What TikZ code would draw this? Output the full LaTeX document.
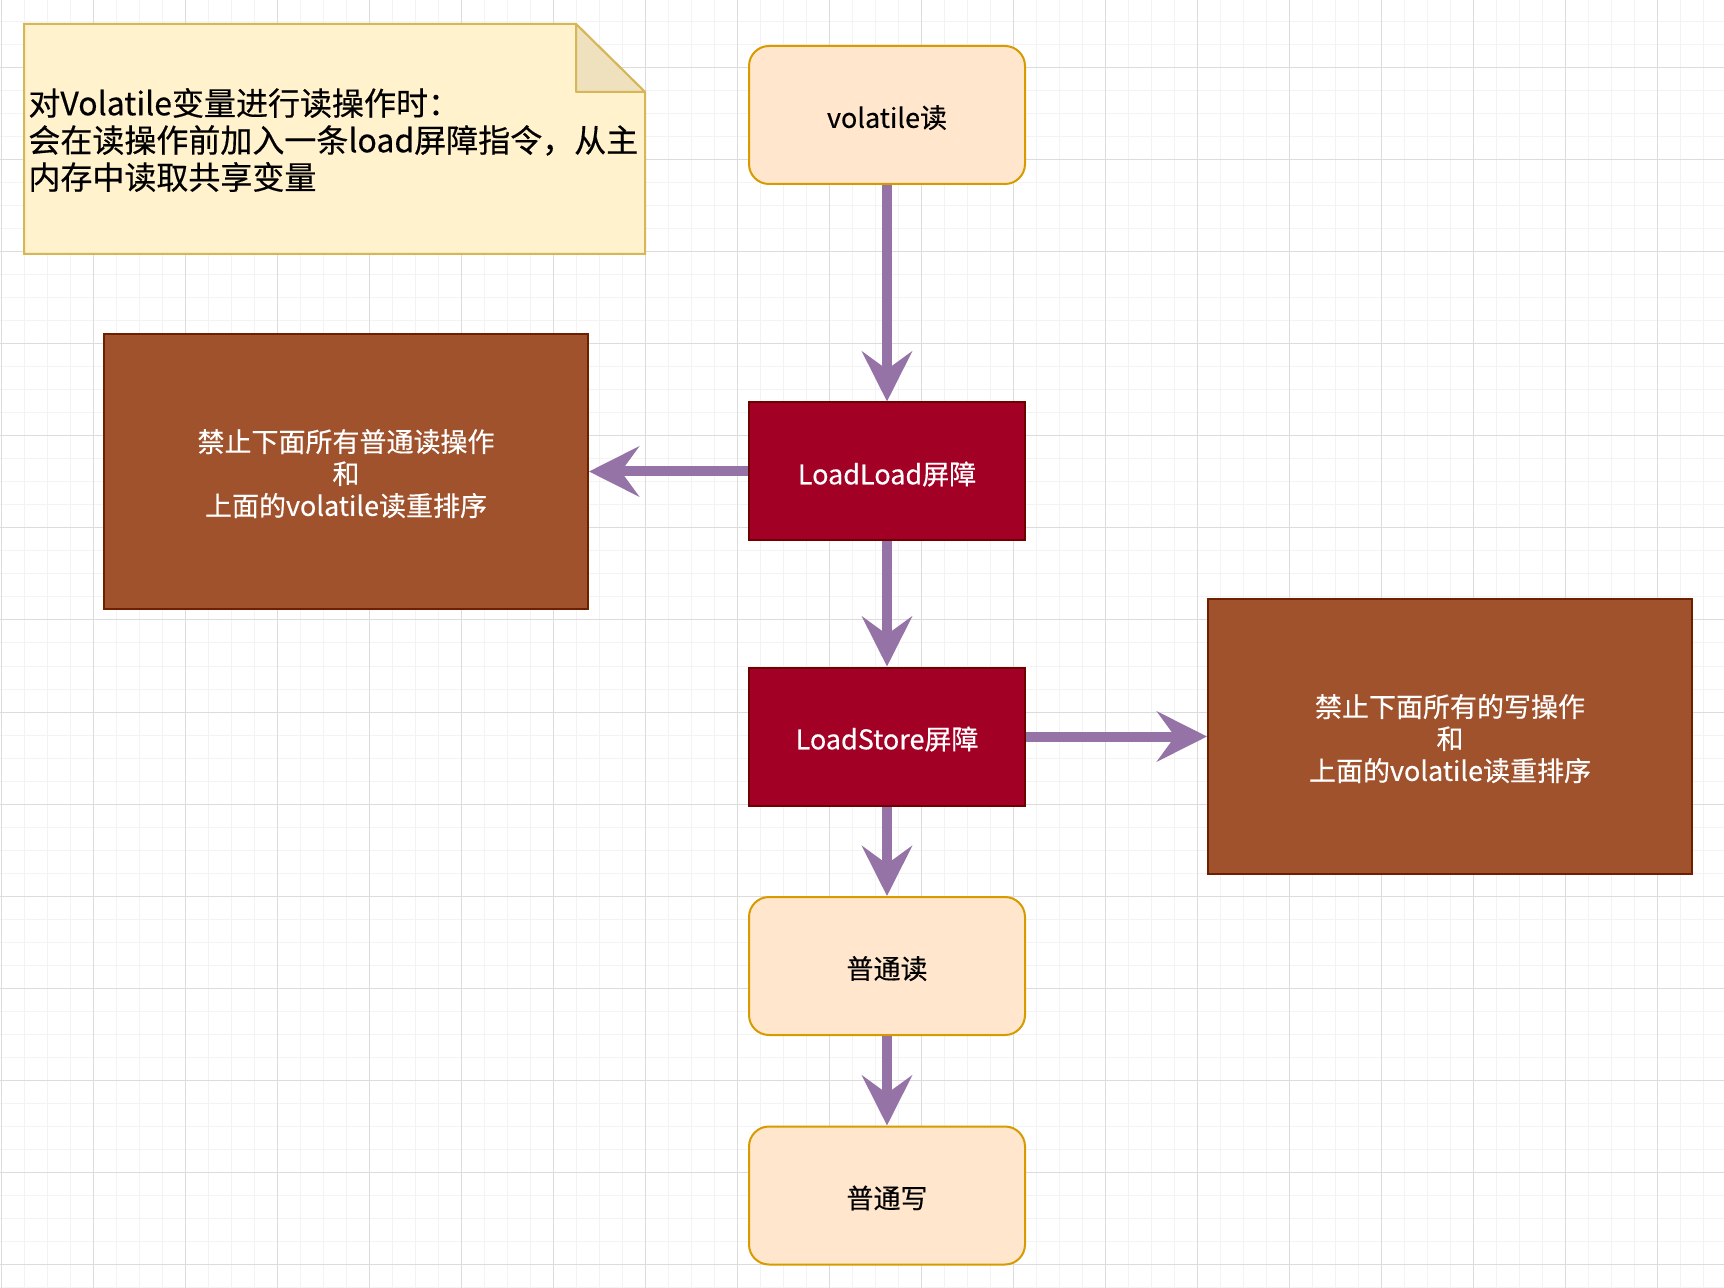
\documentclass[tikz,border=0pt]{standalone}
\usepackage{fontspec}
\usepackage{xcolor}
\usepackage{tikz}
\usetikzlibrary{arrows.meta,positioning}
\newfontfamily\cjk[FakeBold=0.4]{Noto Sans CJK SC}
\definecolor{gridminor}{HTML}{F3F3F3}
\definecolor{gridmajor}{HTML}{DCDCDC}
\definecolor{creamfill}{HTML}{FFE6CC}
\definecolor{creamline}{HTML}{D79B00}
\definecolor{barrierfill}{HTML}{A20025}
\definecolor{barrierline}{HTML}{6F0000}
\definecolor{rulefill}{HTML}{A0522D}
\definecolor{ruleline}{HTML}{6D1F00}
\definecolor{notefill}{HTML}{FFF2CC}
\definecolor{noteline}{HTML}{D6B656}
\definecolor{notefold}{HTML}{EFE1BE}
\definecolor{flow}{HTML}{9673A6}

\begin{document}
\begin{tikzpicture}[x=0.5pt,y=-0.5pt,
  opbox/.style={rectangle,rounded corners=10pt,draw=creamline,fill=creamfill,line width=1pt,
    minimum width=138pt,minimum height=69pt,inner sep=0pt,text height=14pt,text depth=1.2pt,
    font={\cjk\fontsize{13.5pt}{16pt}\selectfont}},
  barrier/.style={rectangle,draw=barrierline,fill=barrierfill,line width=1pt,text=white,
    minimum width=138pt,minimum height=69pt,inner sep=0pt,text height=14pt,text depth=1.2pt,
    font={\cjk\fontsize{13.5pt}{16pt}\selectfont}},
  rulebox/.style={rectangle,draw=ruleline,fill=rulefill,line width=1pt,text=white,align=center,
    minimum width=242pt,minimum height=137.5pt,inner sep=0pt,text height=45.5pt,
    font={\cjk\fontsize{13.5pt}{16pt}\selectfont}},
  flowarrow/.style={draw=flow,line width=5pt,-{Stealth[length=25pt,width=25pt,inset=9pt]}}]
  % canvas and grid
  \fill[white] (0,0) rectangle (1724,1288);
  \useasboundingbox (0,0) rectangle (1724,1288);
  \foreach \gx in {1,24,...,1724} \draw[gridminor,line width=0.5pt] (\gx,0) -- (\gx,1288);
  \foreach \gy in {22,45,...,1288} \draw[gridminor,line width=0.5pt] (0,\gy) -- (1724,\gy);
  \foreach \gx in {1,93,...,1724} \draw[gridmajor,line width=0.5pt] (\gx,0) -- (\gx,1288);
  \foreach \gy in {68,160,...,1288} \draw[gridmajor,line width=0.5pt] (0,\gy) -- (1724,\gy);

  % note
  \draw[noteline,fill=notefill,line width=1pt] (24,24) -- (576,24) -- (645,92) -- (645,254) -- (24,254) -- cycle;
  \draw[noteline,fill=notefold,line width=1pt,line join=round] (576,24) -- (576,92) -- (645,92) -- cycle;
  \node[anchor=west,align=left,inner sep=0pt,font={\cjk\fontsize{16pt}{18.5pt}\selectfont}] (memo) at (28,140)
    {对Volatile变量进行读操作时：\\会在读操作前加入一条load屏障指令，从主\\内存中读取共享变量};

  % main column
  \node[opbox] (vread) at (887,115) {volatile读};
  \node[barrier] (loadload) at (887,471.5) {LoadLoad屏障};
  \node[barrier] (loadstore) at (887,736.5) {LoadStore屏障};
  \node[opbox] (nread) at (887,966) {普通读};
  \node[opbox] (nwrite) at (887,1195.5) {普通写};

  % side boxes
  \node[rulebox] (llrule) at (346,471.5) {禁止下面所有普通读操作\\和\\上面的volatile读重排序};
  \node[rulebox] (lsrule) at (1450,736.5) {禁止下面所有的写操作\\和\\上面的volatile读重排序};

  % arrows
  \draw[flowarrow] (vread) -- (loadload);
  \draw[flowarrow] (loadload) -- (llrule);
  \draw[flowarrow] (loadload) -- (loadstore);
  \draw[flowarrow] (loadstore) -- (lsrule);
  \draw[flowarrow] (loadstore) -- (nread);
  \draw[flowarrow] (nread) -- (nwrite);
\end{tikzpicture}
\end{document}
